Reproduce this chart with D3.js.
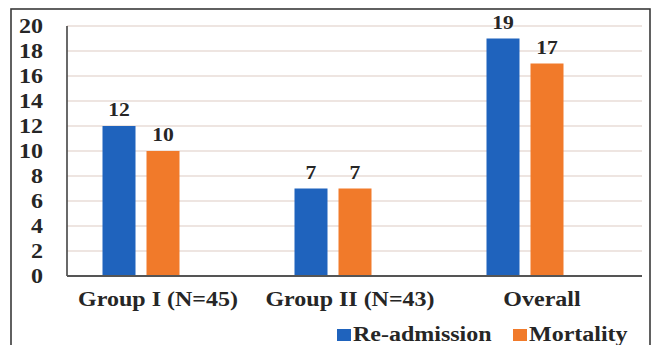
<!DOCTYPE html>
<html>
<head>
<meta charset="utf-8">
<script src="https://cdn.jsdelivr.net/npm/d3@7"></script>
<style>
  html, body { margin: 0; padding: 0; background: #fff; }
  svg { display: block; }
  text { font-family: "Liberation Serif", "Times New Roman", serif; fill: #262626; font-weight: bold; }
</style>
</head>
<body>
<svg id="chart" width="654" height="345"></svg>
<script>
// Re-admission and mortality counts per group
const categories = ["Group I (N=45)", "Group II (N=43)", "Overall"];
const seriesNames = ["Re-admission", "Mortality"];
const readmission = [12, 7, 19];
const mortality = [10, 7, 17];
const yTicks = [0, 2, 4, 6, 8, 10, 12, 14, 16, 18, 20];

const colors = { "Re-admission": "#1f63bd", "Mortality": "#f17a2a" };
const values = { "Re-admission": readmission, "Mortality": mortality };
const SX = 1.2; // horizontal text stretch

const svg = d3.select("#chart");

// outer frame
svg.append("rect")
  .attr("x", 11).attr("y", 9)
  .attr("width", 639).attr("height", 345)
  .attr("fill", "none").attr("stroke", "#3a3a3a").attr("stroke-width", 1.6);

const plotLeft = 67, plotRight = 642;
const y = d3.scaleLinear().domain([0, 20]).range([276, 26]);
const x = d3.scaleBand().domain(categories).range([45, 621]);
const inner = d3.scaleBand().domain(seriesNames).paddingInner(0.25);

// gridlines
svg.append("g").selectAll("line").data(yTicks.filter(t => t > 0)).join("line")
  .attr("x1", plotLeft).attr("x2", plotRight)
  .attr("y1", d => y(d)).attr("y2", d => y(d))
  .attr("stroke", "#e8ddd7").attr("stroke-width", 1.6);

// y tick labels
svg.append("g").selectAll("text").data(yTicks).join("text")
  .attr("transform", d => `translate(43,${y(d)}) scale(${SX},1)`)
  .attr("text-anchor", "end").attr("dy", "0.35em")
  .attr("font-size", 20)
  .text(d => d);

// bars
categories.forEach((cat, i) => {
  const c = x(cat) + x.bandwidth() / 2;
  inner.range([c - 38.5, c + 38.5]);
  const g = svg.append("g");
  seriesNames.forEach(s => {
    const v = values[s][i];
    g.append("rect")
      .attr("x", inner(s)).attr("width", inner.bandwidth())
      .attr("y", y(v)).attr("height", y(0) - y(v))
      .attr("fill", colors[s]);
    g.append("text")
      .attr("transform", `translate(${inner(s) + inner.bandwidth() / 2},${y(v) - 10}) scale(${SX},1)`)
      .attr("text-anchor", "middle")
      .attr("font-size", 18)
      .text(v);
  });
});

// axes lines
svg.append("line").attr("x1", plotLeft).attr("x2", plotLeft).attr("y1", y(20)).attr("y2", y(0))
  .attr("stroke", "#444").attr("stroke-width", 1.6);
svg.append("line").attr("x1", plotLeft).attr("x2", plotRight).attr("y1", y(0)).attr("y2", y(0))
  .attr("stroke", "#555").attr("stroke-width", 2);

// category labels
svg.append("g").selectAll("text").data(categories).join("text")
  .attr("transform", d => `translate(${x(d) + x.bandwidth() / 2 + 17},306) scale(${SX},1)`)
  .attr("text-anchor", "middle")
  .attr("font-size", 20)
  .text(d => d);

// legend
const legendX = { "Re-admission": 337, "Mortality": 513 };
const lg = svg.append("g");
seriesNames.forEach(s => {
  lg.append("rect").attr("x", legendX[s]).attr("y", 329).attr("width", 14).attr("height", 12)
    .attr("fill", colors[s]);
  lg.append("text")
    .attr("transform", `translate(${legendX[s] + 16},341) scale(${SX},1)`)
    .attr("font-size", 20)
    .text(s);
});
</script>
</body>
</html>
